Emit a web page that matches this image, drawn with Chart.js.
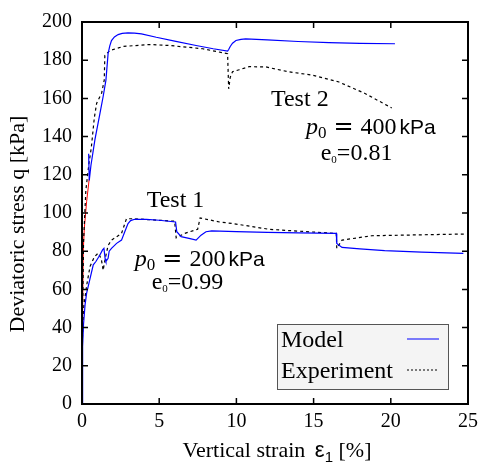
<!DOCTYPE html>
<html>
<head>
<meta charset="utf-8">
<script src="https://cdn.jsdelivr.net/npm/chart.js@4.4.1/dist/chart.umd.min.js"></script>
<style>
  html, body { margin: 0; padding: 0; background: #fff; }
  canvas { display: block; }
</style>
</head>
<body>
<canvas id="chart" width="484" height="472"></canvas>
<script>
// vertical strain [%] vs deviatoric stress q [kPa]
const test1ModelStrain = [0, 0.04, 0.1, 0.2, 0.3, 0.47, 0.73, 0.9, 1.16, 1.33, 1.42, 1.5, 1.55, 1.69, 1.76, 1.91, 2.24, 2.56, 2.77, 2.98, 3.15, 3.41, 4.17, 5, 6.06, 6.14, 6.42, 7.0, 7.39, 7.71, 8.03, 8.4, 10, 12, 14, 16.47, 16.5, 16.84, 18, 19.6, 22, 24.7];
const test1ModelQ      = [0, 30, 42, 52, 58, 64, 72.9, 74.6, 78, 80.7, 81.5, 76, 74.6, 76.3, 80, 81.5, 84.1, 85.8, 90.2, 94.5, 96, 96.7, 96.7, 96.2, 95.3, 90.2, 87.6, 86.6, 85.8, 88.4, 90.2, 90.6, 90.2, 89.9, 89.6, 89.3, 84.1, 82, 81.2, 80.3, 79.5, 78.9];

const test1ExpStrain = [0, 0.03, 0.1, 0.3, 0.52, 0.8, 1.05, 1.25, 1.37, 1.5, 1.69, 1.91, 2.56, 2.88, 3.3, 6.0, 6.1, 6.64, 7.49, 7.65, 8.9, 9.75, 12.1, 12.97, 16.47, 16.5, 16.84, 18.77, 24.8];
const test1ExpQ      = [0, 35, 50, 62, 72, 77, 79, 76, 70, 76, 83, 85.8, 89.3, 97, 97, 95.7, 87, 89.3, 91.5, 97.4, 95.3, 94.5, 91.5, 91, 89.3, 81.5, 85.8, 88.1, 89];

const test2ElasticStrain = [0.01, 0.08, 0.15, 0.3, 0.47];
const test2ElasticQ      = [20, 80, 92, 106, 118];

const test2ModelStrain = [0.43, 0.47, 0.58, 0.84, 1.16, 1.37, 1.55, 1.69, 1.8, 1.91, 2.1, 2.34, 2.6, 2.98, 3.4, 3.85, 4.81, 6.0, 7.39, 8.5, 9.43, 9.5, 9.6, 9.75, 9.97, 10.3, 10.6, 12, 14, 16, 18, 20.27];
const test2ModelQ      = [131, 117, 125, 138.5, 152, 161, 169.6, 183.4, 187.5, 190.3, 192.2, 193.4, 194, 194.3, 194.2, 193.8, 192, 190, 187.7, 186, 184.8, 185.6, 187.2, 188.9, 190.3, 190.9, 191.2, 190.6, 189.8, 189.2, 188.8, 188.6];

const test2ExpStrain = [0, 0.03, 0.1, 0.25, 0.45, 0.6, 0.8, 0.95, 1.27, 1.44, 1.48, 1.8, 2.66, 4.38, 5.67, 7.82, 9.43, 9.5, 9.6, 9.75, 10.18, 10.82, 11.9, 13.4, 14.9, 16.6, 18.3, 20.06];
const test2ExpQ      = [0, 40, 85, 112, 126, 134, 150, 157.5, 162.7, 169.6, 182.5, 185, 187.2, 188.2, 187.7, 186, 183.4, 165, 171, 174, 175, 176.6, 176.5, 173.9, 172.2, 168.7, 162.7, 155];

const xTicks = [0, 5, 10, 15, 20, 25];
const yTicks = [0, 20, 40, 60, 80, 100, 120, 140, 160, 180, 200];

const SERIF = '"Liberation Serif", "Times New Roman", serif';
const SANS = '"Liberation Sans", Arial, sans-serif';

function pts(xs, ys) {
  return xs.map((x, i) => ({ x, y: ys[i] }));
}

const modelStyle = { borderColor: "#0000ff", borderWidth: 1.2 };
const expStyle = { borderColor: "#000", borderWidth: 1.2, borderDash: [3, 3] };

// text runs: [text, font, dy, gap]
function drawRuns(ctx, runs, x, y) {
  let cx = x;
  runs.forEach(([t, font, dy, gap]) => {
    ctx.font = font;
    cx += gap || 0;
    ctx.fillText(t, cx, y + (dy || 0));
    cx += ctx.measureText(t).width;
  });
  return cx - x;
}
function runsWidth(ctx, runs) {
  let w = 0;
  runs.forEach(([t, font, dy, gap]) => {
    ctx.font = font;
    w += (gap || 0) + ctx.measureText(t).width;
  });
  return w;
}

const f24 = "24px " + SERIF;
const pRuns = (v) => [
  ["p", "italic 24px " + SERIF],
  ["0", "17px " + SERIF, 4],
  ["=", '24px "DejaVu Serif", serif', 0, 7],
  [v, f24, 0, 7],
  ["kPa", "21px " + SANS, 0, 3],
];
const eRuns = (v) => [
  ["e", f24],
  ["0", "11px " + SERIF, 3],
  ["=" + v, f24],
];

// label anchors in data units (left edge, baseline)
const notes = [
  { at: [12.24, 156], runs: [["Test 2", f24]] },
  { at: [14.5, 141.5], runs: pRuns("400") },
  { at: [15.46, 127.5], runs: eRuns("0.81") },
  { at: [4.19, 103], runs: [["Test 1", f24]] },
  { at: [3.42, 72.5], runs: pRuns("200") },
  { at: [4.51, 60.1], runs: eRuns("0.99") },
];

const overlay = {
  id: "overlay",
  afterDatasetsDraw(chart) {
    const { ctx, chartArea: a, scales: { x, y } } = chart;
    ctx.save();
    ctx.strokeStyle = "#000";
    ctx.lineWidth = 1.5;
    ctx.beginPath();
    xTicks.forEach((v) => {
      const px = x.getPixelForValue(v);
      ctx.moveTo(px, a.bottom); ctx.lineTo(px, a.bottom - 6);
      ctx.moveTo(px, a.top); ctx.lineTo(px, a.top + 6);
    });
    yTicks.forEach((v) => {
      const py = y.getPixelForValue(v);
      ctx.moveTo(a.left, py); ctx.lineTo(a.left + 6, py);
      ctx.moveTo(a.right, py); ctx.lineTo(a.right - 6, py);
    });
    ctx.stroke();
    ctx.lineWidth = 2;
    ctx.strokeRect(a.left, a.top, a.right - a.left, a.bottom - a.top);
    ctx.restore();
  },
  afterDraw(chart) {
    const { ctx, chartArea: a, scales: { x, y } } = chart;
    ctx.save();
    ctx.fillStyle = "#000";
    ctx.textBaseline = "alphabetic";
    ctx.textAlign = "left";

    notes.forEach((n) => drawRuns(ctx, n.runs, x.getPixelForValue(n.at[0]), y.getPixelForValue(n.at[1])));

    // legend
    const lx = a.right - 191, ly = a.bottom - 80, lw = 171, lh = 65;
    ctx.fillStyle = "#f4f4f4";
    ctx.fillRect(lx, ly, lw, lh);
    ctx.strokeStyle = "#555";
    ctx.lineWidth = 1;
    ctx.strokeRect(lx + 0.5, ly + 0.5, lw, lh);
    const items = chart.data.datasets.filter((d) => d.legend);
    items.forEach((d, i) => {
      const by = ly + 23 + i * 31;
      ctx.fillStyle = "#000";
      ctx.font = f24;
      ctx.fillText(d.legend, lx + 4, by);
      ctx.strokeStyle = d.borderColor;
      ctx.lineWidth = 1;
      ctx.setLineDash(d.borderDash ? [2, 2] : []);
      ctx.beginPath();
      ctx.moveTo(lx + 130, by - 8);
      ctx.lineTo(lx + 162, by - 8);
      ctx.stroke();
      ctx.setLineDash([]);
    });

    // axis titles
    ctx.fillStyle = "#000";
    const xt = [
      ["Vertical strain ", "22px " + SERIF],
      ["\u03b5", "22px " + SANS, 0, 4],
      ["1", "15px " + SANS, 5],
      [" [%]", "22px " + SERIF],
    ];
    const w = runsWidth(ctx, xt);
    drawRuns(ctx, xt, (a.left + a.right) / 2 - w / 2 + 2, a.bottom + 53);

    ctx.translate(24, (a.top + a.bottom) / 2 + 11);
    ctx.rotate(-Math.PI / 2);
    ctx.textAlign = "center";
    ctx.font = "22px " + SERIF;
    ctx.fillText("Deviatoric stress q [kPa]", 0, 0);
    ctx.restore();
  },
};

const line = { showLine: true, pointRadius: 0, fill: false, tension: 0 };

new Chart(document.getElementById("chart"), {
  type: "scatter",
  data: {
    datasets: [
      { ...line, ...modelStyle, label: "Model", legend: "Model", data: pts(test2ModelStrain, test2ModelQ) },
      { ...line, ...expStyle, label: "Experiment", legend: "Experiment", data: pts(test2ExpStrain, test2ExpQ) },
      { ...line, borderColor: "#ff0000", borderWidth: 1, data: pts(test2ElasticStrain, test2ElasticQ) },
      { ...line, ...modelStyle, data: pts(test1ModelStrain, test1ModelQ) },
      { ...line, ...expStyle, data: pts(test1ExpStrain, test1ExpQ) },
    ],
  },
  options: {
    responsive: false,
    animation: false,
    devicePixelRatio: 1,
    layout: { padding: { top: 18, right: 14, left: 0, bottom: 0 } },
    plugins: { legend: { display: false }, tooltip: { enabled: false } },
    scales: {
      x: {
        type: "linear",
        min: 0,
        max: 25,
        grid: { display: false, drawTicks: false },
        border: { display: false },
        ticks: { stepSize: 5, autoSkip: false, padding: 6, color: "#000", font: { family: SERIF, size: 20 } },
        afterFit: (s) => { s.height = 68; },
      },
      y: {
        min: 0,
        max: 200,
        grid: { display: false, drawTicks: false },
        border: { display: false },
        ticks: { stepSize: 20, autoSkip: false, padding: 10, color: "#000", font: { family: SERIF, size: 20 } },
        afterFit: (s) => { s.width = 82; },
      },
    },
  },
  plugins: [overlay],
});
</script>
</body>
</html>
